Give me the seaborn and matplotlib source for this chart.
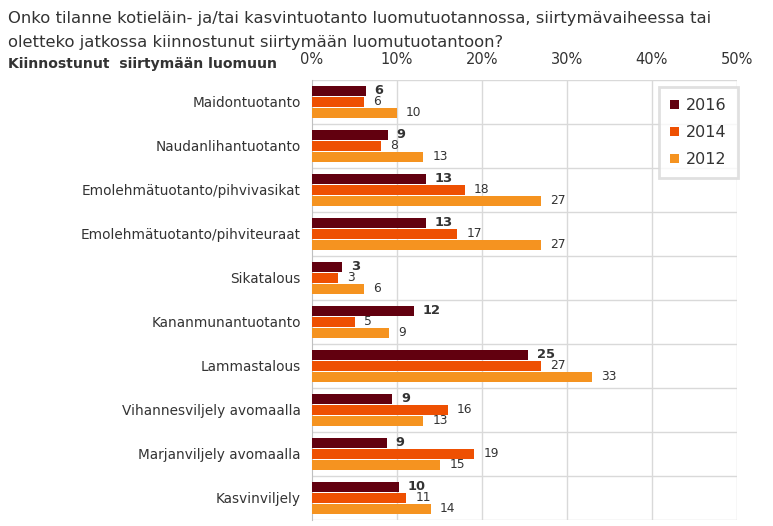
import matplotlib
matplotlib.use("Agg")
import matplotlib.pyplot as plt
import seaborn as sns
import pandas as pd

categories = ["Maidontuotanto", "Naudanlihantuotanto", "Emolehmätuotanto/pihvivasikat",
              "Emolehmätuotanto/pihviteuraat", "Sikatalous", "Kananmunantuotanto",
              "Lammastalous", "Vihannesviljely avomaalla", "Marjanviljely avomaalla",
              "Kasvinviljely"]
years = ["2016", "2014", "2012"]
values_2016 = [6.3, 8.9, 13.4, 13.4, 3.5, 12.0, 25.4, 9.4, 8.8, 10.2]
values_2014 = [6.1, 8.1, 18.0, 17.1, 3.1, 5.1, 26.9, 16.0, 19.1, 11.1]
values_2012 = [10.0, 13.1, 26.9, 26.9, 6.1, 9.1, 32.9, 13.1, 15.1, 14.0]
labels_2016 = [6, 9, 13, 13, 3, 12, 25, 9, 9, 10]
labels_2014 = [6, 8, 18, 17, 3, 5, 27, 16, 19, 11]
labels_2012 = [10, 13, 27, 27, 6, 9, 33, 13, 15, 14]
xticks = [0, 10, 20, 30, 40, 50]
xtick_labels = ["0%", "10%", "20%", "30%", "40%", "50%"]
title_lines = ["Onko tilanne kotieläin- ja/tai kasvintuotanto luomutuotannossa, siirtymävaiheessa tai",
               "oletteko jatkossa kiinnostunut siirtymään luomutuotantoon?"]
subtitle = "Kiinnostunut  siirtymään luomuun"

colors = ["#62000F", "#EE5002", "#F59320"]
text_color = "#333333"
grid_color = "#d9d9d9"

df = pd.DataFrame({
    "Kategoria": categories * 3,
    "Vuosi": [years[0]] * 10 + [years[1]] * 10 + [years[2]] * 10,
    "Arvo": values_2016 + values_2014 + values_2012,
})

sns.set_style("white")
plt.rcParams["font.family"] = ["DejaVu Sans"]

fig = plt.figure(figsize=(7.73, 5.26), dpi=100)
ax = fig.add_axes([312 / 773, 1 - 520 / 526, (737 - 312) / 773, 440 / 526])

sns.barplot(data=df, y="Kategoria", x="Arvo", hue="Vuosi", order=categories,
            hue_order=years, palette=colors, orient="h", width=0.75, gap=0.05,
            saturation=1, linewidth=0, ax=ax, legend=True, zorder=3)

ax.set_xlim(0, 50)
ax.set_ylim(len(categories) - 0.5, -0.5)
ax.set_xticks(xticks)
ax.set_xticklabels(xtick_labels, fontsize=10.5, color=text_color)
ax.xaxis.tick_top()
ax.tick_params(axis="x", length=0, pad=9)
ax.tick_params(axis="y", length=0, pad=8, labelsize=9.8, labelcolor=text_color)
ax.set_xlabel("")
ax.set_ylabel("")
for s in ["top", "right", "bottom"]:
    ax.spines[s].set_visible(False)
ax.spines["left"].set_color("#bfbfbf")

for x in xticks[1:]:
    ax.axvline(x, color=grid_color, lw=1, zorder=0)
for i in range(len(categories) + 1):
    ax.axhline(i - 0.5, color=grid_color, lw=1, zorder=0)

all_labels = [labels_2016, labels_2014, labels_2012]
for ci, container in enumerate(ax.containers):
    labs = [str(v) for v in all_labels[ci]]
    ax.bar_label(container, labels=labs, padding=6.5,
                 fontsize=9.4 if ci == 0 else 8.8, color=text_color,
                 fontweight="bold" if ci == 0 else "normal")

leg = ax.legend(loc="upper right", bbox_to_anchor=(1.002, 0.984), borderaxespad=0,
                frameon=True, fontsize=11.5,
                handlelength=0.55, handleheight=0.55, handletextpad=0.45, labelspacing=0.75,
                borderpad=0.7, fancybox=False, title=None)
leg.get_frame().set_edgecolor(grid_color)
leg.get_frame().set_linewidth(2)
leg.get_frame().set_facecolor("white")
for t in leg.get_texts():
    t.set_color(text_color)

fig.text(8 / 773, 1 - 18 / 526, title_lines[0], fontsize=11.8, color=text_color,
         va="center", ha="left")
fig.text(8 / 773, 1 - 42 / 526, title_lines[1], fontsize=11.8, color=text_color,
         va="center", ha="left")
fig.text(8 / 773, 1 - 64 / 526, subtitle, fontsize=10.1, color=text_color, va="center",
         ha="left", fontweight="bold")

fig.savefig("out.png", dpi=100)
